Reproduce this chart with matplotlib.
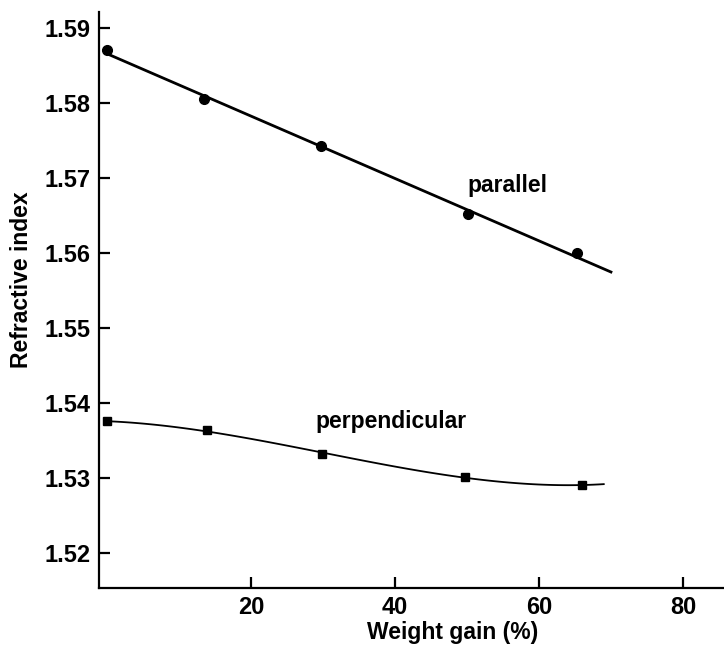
import numpy as np
import matplotlib
matplotlib.use("Agg")
import matplotlib.pyplot as plt

plt.rcParams['font.family'] = ['Liberation Sans', 'DejaVu Sans']
plt.rcParams['font.weight'] = 'bold'

# Refractive index vs weight gain
x_par = [0, 13.5, 29.7, 50.2, 65.3]
n_par = [1.5870, 1.5805, 1.5742, 1.5651, 1.5599]

x_perp = [0, 13.9, 29.9, 49.7, 66.0]
n_perp = [1.5375, 1.5363, 1.5332, 1.5301, 1.5290]

x_ticks = [20, 40, 60, 80]
y_ticks = [1.52, 1.53, 1.54, 1.55, 1.56, 1.57, 1.58, 1.59]

fig = plt.figure(figsize=(7.24, 6.47), dpi=100)
ax = fig.add_axes([0.1367, 0.0912, 0.8633, 0.8903])

# parallel: straight least-squares line
k, b = np.polyfit(x_par, n_par, 1)
xf = np.linspace(0, 70, 50)
ax.plot(xf, k * xf + b, color='black', lw=2.0)
ax.plot(x_par, n_par, 'o', color='black', ms=7)

# perpendicular: smooth curve through the points
c = np.polyfit(x_perp, n_perp, 3)
xc = np.linspace(0, 69, 100)
ax.plot(xc, np.polyval(c, xc), color='black', lw=1.3)
ax.plot(x_perp, n_perp, 's', color='black', ms=6)

ax.text(55.6, 1.5690, 'parallel', fontsize=16.5, ha='center', va='center')
ax.text(39.4, 1.5375, 'perpendicular', fontsize=16.5, ha='center', va='center')

ax.set_xlim(-1.1, 85.7)
ax.set_ylim(1.5153, 1.5921)
ax.set_xticks(x_ticks)
ax.set_yticks(y_ticks)
ax.set_yticklabels([f'{v:.2f}' for v in y_ticks])

for s in ['top', 'right']:
    ax.spines[s].set_visible(False)
for s in ['left', 'bottom']:
    ax.spines[s].set_linewidth(1.6)

ax.tick_params(direction='in', length=8, width=1.6, labelsize=17)
ax.tick_params(axis='y', pad=6)
ax.tick_params(axis='x', pad=6)

ax.set_xlabel('Weight gain (%)', fontsize=16.5, fontweight='bold')
ax.set_ylabel('Refractive index', fontsize=16.5, fontweight='bold')
ax.xaxis.set_label_coords(0.566, -0.058)
ax.yaxis.set_label_coords(-0.106, 0.535)

fig.savefig('out.png', dpi=100)
